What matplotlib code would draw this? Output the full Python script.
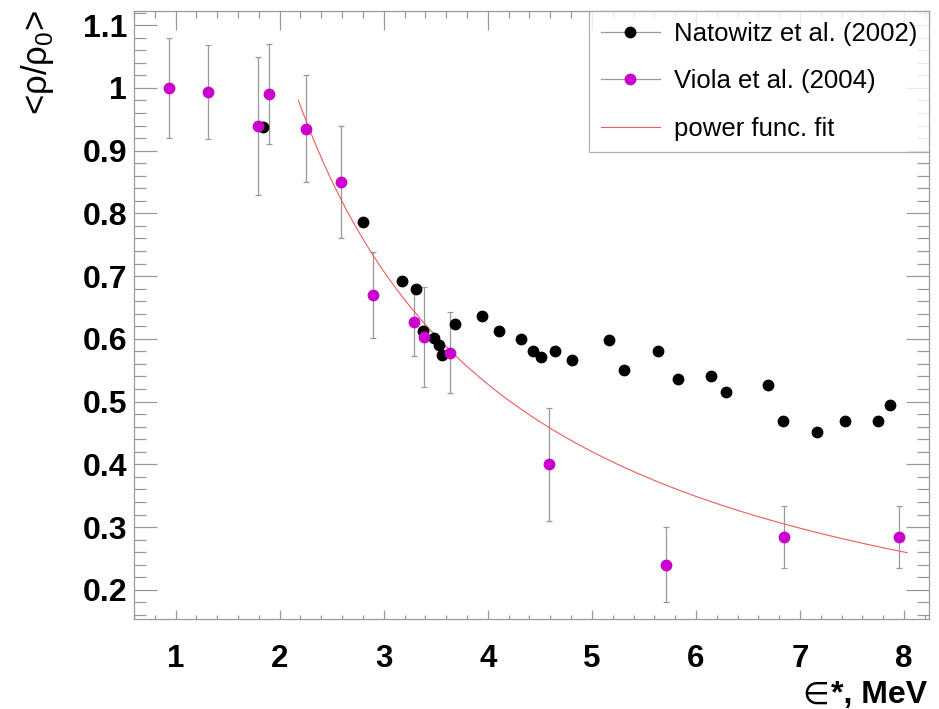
import numpy as np
import matplotlib
matplotlib.use("Agg")
import matplotlib.pyplot as plt
from matplotlib.ticker import MultipleLocator
from matplotlib.lines import Line2D

plt.rcParams['font.family'] = ['Liberation Sans', 'DejaVu Sans']

# Natowitz et al. (2002)
nat_x = [1.84, 2.80, 3.18, 3.31, 3.38, 3.48, 3.53, 3.56, 3.68, 3.94, 4.11, 4.32,
         4.43, 4.51, 4.65, 4.81, 5.16, 5.31, 5.64, 5.83, 6.14, 6.29, 6.69, 6.84,
         7.16, 7.43, 7.75, 7.86]
nat_y = [0.937, 0.787, 0.692, 0.679, 0.613, 0.601, 0.590, 0.574, 0.623, 0.636,
         0.613, 0.600, 0.581, 0.571, 0.581, 0.566, 0.598, 0.550, 0.581, 0.536,
         0.541, 0.515, 0.527, 0.469, 0.452, 0.469, 0.469, 0.495]

# Viola et al. (2004)
vio_x = [0.94, 1.31, 1.79, 1.90, 2.25, 2.59, 2.90, 3.29, 3.39, 3.64, 4.59, 5.71, 6.85, 7.95]
vio_y = [1.00, 0.993, 0.94, 0.99, 0.935, 0.85, 0.67, 0.627, 0.603, 0.578, 0.40, 0.24, 0.284, 0.284]
vio_err = [0.08, 0.075, 0.11, 0.08, 0.085, 0.09, 0.068, 0.055, 0.08, 0.065, 0.09, 0.06, 0.05, 0.05]

# power function fit  y = a * x^b
fit_a = 2.17
fit_b = -1.02
fit_range = (2.18, 8.03)

legend_labels = ["Natowitz et al. (2002)", "Viola et al. (2004)", "power func. fit"]

GRAY = '#9a9a9a'
MAG = '#cc00cc'
FITC = '#f05a5a'
MS = 8.5

fig = plt.figure(figsize=(9.39, 7.09), dpi=100)
ax = fig.add_axes([0.1427, 0.1274, 0.8467, 0.8575])

ax.errorbar(vio_x, vio_y, yerr=vio_err, fmt='none', ecolor=GRAY, elinewidth=0.9,
            capsize=2.0, capthick=0.9, zorder=1)
xf = np.linspace(fit_range[0], fit_range[1], 300)
ax.plot(xf, fit_a * xf ** fit_b, color=FITC, lw=0.8, zorder=2)
ax.plot(nat_x, nat_y, 'o', color='black', ms=MS, mew=0, zorder=3)
ax.plot(vio_x, vio_y, 'o', color=MAG, ms=MS, mew=0, zorder=4)

ax.set_xlim(0.6, 8.24)
ax.set_ylim(0.154, 1.123)
ax.xaxis.set_minor_locator(MultipleLocator(0.2))
ax.yaxis.set_minor_locator(MultipleLocator(0.02))


def fmt(v):
    s = f"{v:.1f}"
    return s[:-2] if s.endswith('.0') else s


xt = np.arange(1, 9)
ax.set_xticks(xt)
ax.set_xticklabels([fmt(v) for v in xt])
yt = np.round(np.arange(0.2, 1.11, 0.1), 1)
ax.set_yticks(yt)
ax.set_yticklabels([fmt(v) for v in yt])

for sp in ax.spines.values():
    sp.set_color(GRAY)
    sp.set_linewidth(0.9)

PX = 0.72  # points per pixel at 100 dpi
ax.tick_params(axis='x', which='major', direction='in', length=9.3 * PX, width=0.9,
               color=GRAY, pad=18, labelsize=22.5)
ax.tick_params(axis='x', which='minor', direction='in', length=4.5 * PX, width=0.9, color=GRAY)
ax.tick_params(axis='y', which='major', direction='in', length=23 * PX, width=0.9,
               color=GRAY, pad=5, labelsize=23, right=True)
ax.tick_params(axis='y', which='minor', direction='in', length=12 * PX, width=0.9,
               color=GRAY, right=True)
for lab in ax.get_xticklabels() + ax.get_yticklabels():
    lab.set_fontweight('bold')

# top axis ticks
axt = ax.twiny()
axt.set_xlim(ax.get_xlim())
axt.xaxis.set_major_locator(MultipleLocator(1))
axt.xaxis.set_minor_locator(MultipleLocator(0.2))
axt.tick_params(axis='x', which='major', direction='in', length=19 * PX, width=0.9,
                color=GRAY, labeltop=False)
axt.tick_params(axis='x', which='minor', direction='in', length=7 * PX, width=0.9, color=GRAY)
for sp in axt.spines.values():
    sp.set_visible(False)

handles = [
    Line2D([], [], color=GRAY, lw=0.9, marker='o', ms=MS, mfc='black', mec='black', mew=0),
    Line2D([], [], color=GRAY, lw=0.9, marker='o', ms=MS, mfc=MAG, mec=MAG, mew=0),
    Line2D([], [], color=FITC, lw=0.8),
]
leg = axt.legend(handles, legend_labels, loc='upper right', bbox_to_anchor=(1.0, 1.0),
                 borderaxespad=0, fontsize=18.5, frameon=True, fancybox=False,
                 handlelength=2.3, handletextpad=0.55, labelspacing=0.9, borderpad=0.45)
leg.get_frame().set_edgecolor(GRAY)
leg.get_frame().set_linewidth(0.9)

# x-axis title: thin "∈" symbol followed by bold "*, MeV"
xt_main = fig.text(927 / 939, 1 - 703 / 709, "*, MeV", ha='right', va='baseline',
                   fontsize=23, fontweight='bold')
ax.annotate("∈", xy=(0, 0), xycoords=xt_main, xytext=(-1, 0), textcoords='offset points',
            ha='right', va='bottom', fontsize=22, family='DejaVu Sans', annotation_clip=False)

fig.text(38 / 939, 1 - 10 / 709, r"<ρ/ρ$_\mathregular{0}$>", ha='center', va='top',
         rotation=90, fontsize=25)

fig.savefig("out.png", dpi=100)
